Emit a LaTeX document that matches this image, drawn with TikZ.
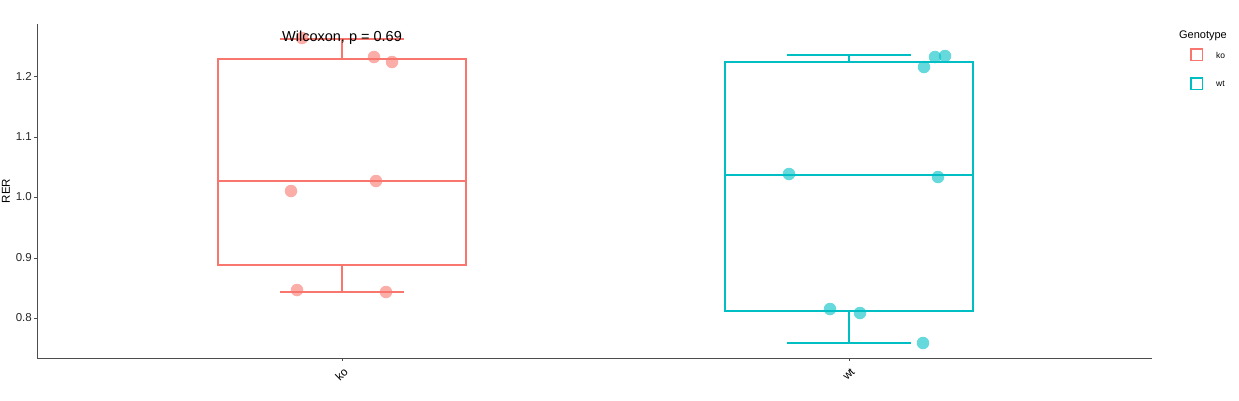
\documentclass[tikz,border=0pt]{standalone}
\usepackage{fontspec}
\setmainfont{Liberation Sans}
\definecolor{kocol}{HTML}{F8766D}
\definecolor{wtcol}{HTML}{00BFC4}
\definecolor{axcol}{HTML}{4D4D4D}
\begin{document}
\begin{tikzpicture}[x=1pt,y=-1pt,
  boxline/.style={line width=1.6pt},
  pt/.style={circle,inner sep=0pt,minimum size=12.5pt,fill opacity=0.6},
  ticklab/.style={font=\fontsize{11.5}{12}\selectfont,text=black!85,anchor=east,inner sep=1pt},
  axis/.style={draw=axcol,line width=0.7pt},
  legbox/.style={line width=1.5pt,minimum size=11.5pt,inner sep=0pt},
  leglab/.style={font=\fontsize{8.5}{9}\selectfont,anchor=west,inner sep=0pt}]
\useasboundingbox (0,0) rectangle (1239,400);
% axes
\draw[axis] (37,24) -- (37,358) -- (1152,358);
\foreach \v/\y in {1.2/76,1.1/137,1.0/197,0.9/258,0.8/318}{
  \draw[axis] (34,\y) -- (37,\y);
  \node[ticklab] (t\v) at (33,\y) {\v};
}
\draw[axis] (342,358) -- (342,361);
\draw[axis] (849,358) -- (849,361);
\node[rotate=90,font=\fontsize{11.5}{12}\selectfont,inner sep=0pt] (ylab) at (6,191) {RER};
\node[rotate=45,anchor=east,font=\fontsize{11.5}{12}\selectfont,inner sep=0pt] (xko) at (346,370) {ko};
\node[rotate=45,anchor=east,font=\fontsize{11.5}{12}\selectfont,inner sep=0pt] (xwt) at (853,370) {wt};
% ko box
\begin{scope}[kocol,boxline]
\draw (218,59) rectangle (466,265);
\draw (218,181) -- (466,181);
\draw (342,59) -- (342,39);
\draw (280,39) -- (404,39);
\draw (342,265) -- (342,292);
\draw (280,292) -- (404,292);
\end{scope}
\foreach \x/\y [count=\i] in {302/38,374/57,392/62,291/191,376/181,297/290,386/292}
  \node[pt,fill=kocol] (k\i) at (\x,\y) {};
% wt box
\begin{scope}[wtcol,boxline]
\draw (725,62) rectangle (973,311);
\draw (725,175) -- (973,175);
\draw (849,62) -- (849,55);
\draw (787,55) -- (911,55);
\draw (849,311) -- (849,343);
\draw (787,343) -- (911,343);
\end{scope}
\foreach \x/\y [count=\i] in {935/57,945/56,924/67,789/174,938/177,830/309,860/313,923/343}
  \node[pt,fill=wtcol] (w\i) at (\x,\y) {};
% annotation
\node[font=\fontsize{14.5}{15}\selectfont,inner sep=0pt] (wil) at (342,38) {Wilcoxon, p = 0.69};
% legend
\node[font=\fontsize{11}{12}\selectfont,inner sep=0pt] (legt) at (1203,36) {Genotype};
\node[legbox,draw=kocol] (lk) at (1196.5,54.5) {};
\node[legbox,draw=wtcol] (lw) at (1196.5,83.5) {};
\node[leglab] (lkt) at (1216,55) {ko};
\node[leglab] (lwt) at (1216,84) {wt};
\end{tikzpicture}
\end{document}
